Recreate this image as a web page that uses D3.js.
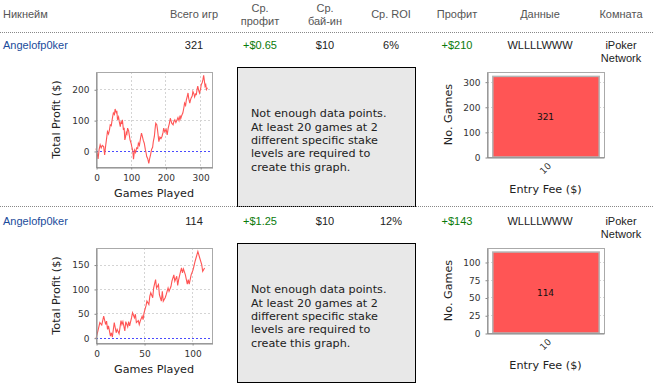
<!DOCTYPE html>
<html>
<head>
<meta charset="utf-8">
<script src="https://cdn.jsdelivr.net/npm/d3@7"></script>
<style>
    body { margin: 0; background: #fff; }
    svg { display: block; }
</style>
</head>
<body>
<svg id="main"></svg>
<script>
const width = 654;
const height = 385;

// DATA -------------------------------------------
const headers = [['Никнейм'], ['Всего игр'], ['Ср.', 'профит'], ['Ср.', 'бай-ин'], ['Ср. ROI'], ['Профит'], ['Данные'], ['Комната']];
const nicknames = ['Angelofp0ker', 'Angelofp0ker'];
const totalGames = ['321', '114'];
const avgProfit = ['+$0.65', '+$1.25'];
const avgBuyin = ['$10', '$10'];
const avgRoi = ['6%', '12%'];
const profit = ['+$210', '+$143'];
const lastResults = ['WLLLLWWW', 'WLLLLWWW'];
const rooms = [['iPoker', 'Network'], ['iPoker', 'Network']];

// cumulative profit: [games played, total profit $]
const profitCurve1 = [[0, 8], [3, -5], [6, -26], [9, 5], [12, 20], [15, 10], [18, 18], [22, 14], [25, -13], [27, 10],
    [30, 36], [33, 63], [36, 55], [39, 70], [41, 85], [44, 82], [47, 105], [50, 123], [53, 118], [55, 136],
    [58, 125], [60, 130], [62, 101], [65, 110], [67, 95], [70, 79], [72, 96], [74, 88], [76, 101], [79, 68],
    [81, 75], [83, 36], [85, 45], [87, 60], [89, 55], [91, 74], [94, 65], [96, 50], [98, 36], [101, 25],
    [103, 14], [106, 0], [108, -27], [111, 3], [114, -5], [117, 10], [120, 8], [122, 25], [125, 18], [128, 40],
    [131, 58], [134, 45], [136, 35], [139, 25], [142, 5], [144, -5], [146, -18], [149, -25], [152, -40], [155, -22],
    [157, -13], [160, 5], [163, 12], [165, 30], [168, 47], [170, 70], [172, 90], [175, 85], [177, 70], [181, 30],
    [184, 45], [187, 40], [190, 47], [193, 60], [195, 74], [198, 62], [202, 70], [205, 52], [208, 75], [211, 88],
    [214, 106], [216, 98], [218, 90], [222, 85], [224, 95], [227, 101], [230, 92], [233, 100], [236, 108], [239, 98],
    [242, 115], [244, 105], [246, 112], [248, 118], [250, 123], [253, 140], [255, 155], [258, 148], [260, 165], [263, 178],
    [265, 188], [267, 170], [270, 155], [272, 165], [274, 172], [277, 178], [279, 193], [282, 185], [284, 175], [287, 185],
    [289, 183], [291, 200], [293, 210], [296, 195], [298, 188], [301, 200], [303, 215], [306, 222], [308, 232], [310, 245],
    [312, 228], [314, 210], [316, 215], [318, 199], [321, 205]];

const profitCurve2 = [[0, -2], [2, 14], [4, 31], [6, 26], [8, 44], [10, 27], [11, 34], [12, 17], [13, 24], [15, 3],
    [16, 10], [17, 1], [19, 31], [21, 10], [22, 17], [24, 8], [26, 35], [27, 27], [28, 33], [30, 14],
    [31, 33], [33, 22], [34, 33], [35, 24], [37, 41], [38, 51], [40, 41], [41, 48], [42, 31], [44, 35],
    [45, 27], [46, 34], [48, 44], [49, 37], [50, 51], [52, 65], [53, 75], [55, 68], [56, 85], [57, 92],
    [59, 82], [60, 102], [62, 119], [63, 102], [65, 109], [66, 88], [68, 75], [69, 95], [70, 75], [72, 82],
    [73, 88], [75, 102], [76, 95], [78, 105], [79, 116], [81, 129], [82, 116], [84, 126], [85, 107], [86, 119],
    [88, 136], [89, 143], [90, 133], [91, 141], [93, 129], [95, 110], [96, 119], [97, 110], [99, 129], [101, 139],
    [103, 156], [104, 163], [106, 177], [108, 163], [110, 150], [111, 136], [113, 143]];

const curveXMax = [334, 120.7];
const curveYRange = [[-52, 256], [-11, 184]];
const curveXTicks = [[0, 100, 200, 300], [0, 50, 100]];
const curveYTicks = [[0, 100, 200], [0, 50, 100, 150]];

const entryFees = ['10'];
const feeGames = [[321], [114]];
const feeYMax = [338.5, 119.7];
const feeYTicks = [[0, 100, 200, 300], [0, 25, 50, 75, 100]];

const noDataText = ['Not enough data points.', 'At least 20 games at 2', 'different specific stake', 'levels are required to', 'create this graph.'];

// LAYOUT -------------------------------------------
const rowStep = 176;
const colCenters = [null, 194, 260, 325, 391, 457, 540, 621];
const tableFont = '"Liberation Sans", Arial, sans-serif';
const chartFont = '"DejaVu Sans", sans-serif';

const svg = d3.select('svg#main')
    .attr('width', width)
    .attr('height', height);

// HEADER -------------------------------------------
headers.forEach((lines, i) => {
    const t = svg.append('text')
        .attr('x', i === 0 ? 3 : colCenters[i])
        .attr('text-anchor', i === 0 ? 'start' : 'middle')
        .style('font-family', tableFont)
        .style('font-size', '11px')
        .style('fill', '#555');
    lines.forEach((line, j) => {
        t.append('tspan')
            .attr('x', i === 0 ? 3 : colCenters[i])
            .attr('y', lines.length === 1 ? 18 : 12 + j * 13)
            .text(line);
    });
});

function dotted(y) {
    svg.append('line')
        .attr('x1', 0).attr('x2', width)
        .attr('y1', y).attr('y2', y)
        .style('stroke', '#888')
        .style('stroke-dasharray', '1,1');
}
dotted(32.5);

// ROWS -------------------------------------------
nicknames.forEach((name, r) => {
    const top = r * rowStep;
    const row = svg.append('g').attr('transform', `translate(0,${top})`);
    const cells = [
        { text: name, x: 3, anchor: 'start', color: '#1a4b9b' },
        { text: totalGames[r], x: colCenters[1], color: '#222' },
        { text: avgProfit[r], x: colCenters[2], color: '#0a7a0a' },
        { text: avgBuyin[r], x: colCenters[3], color: '#222' },
        { text: avgRoi[r], x: colCenters[4], color: '#222' },
        { text: profit[r], x: colCenters[5], color: '#0a7a0a' },
        { text: lastResults[r], x: colCenters[6], color: '#222' },
    ];
    cells.forEach(c => {
        row.append('text')
            .attr('x', c.x)
            .attr('y', 49)
            .attr('text-anchor', c.anchor || 'middle')
            .style('font-family', tableFont)
            .style('font-size', '11px')
            .style('fill', c.color)
            .text(c.text);
    });
    rooms[r].forEach((line, j) => {
        row.append('text')
            .attr('x', colCenters[7])
            .attr('y', 49 + j * 13)
            .attr('text-anchor', 'middle')
            .style('font-family', tableFont)
            .style('font-size', '11px')
            .style('fill', '#222')
            .text(line);
    });

    lineChart(row, r);
    noDataBox(row);
    barChart(row, r);

    if (r === 0) dotted(top + 206.5);
});

function styleAxis(a) {
    a.select('.domain').style('stroke', '#888');
    a.selectAll('.tick line').style('stroke', '#888');
    a.selectAll('.tick text')
        .style('font-family', chartFont)
        .style('font-size', '9px')
        .style('fill', '#333');
}

function lineChart(row, r) {
    const plot = { left: 96, right: 212, top: 72, bottom: 167 };
    const x = d3.scaleLinear().domain([0, curveXMax[r]]).range([plot.left, plot.right]);
    const y = d3.scaleLinear().domain(curveYRange[r]).range([plot.bottom, plot.top]);
    const g = row.append('g');

    g.append('rect')
        .attr('x', plot.left).attr('y', plot.top)
        .attr('width', plot.right - plot.left).attr('height', plot.bottom - plot.top)
        .style('fill', '#fff');

    g.selectAll('.vgrid').data(curveXTicks[r].filter(d => d > 0)).enter()
        .append('line')
        .attr('x1', d => Math.round(x(d)) + 0.5).attr('x2', d => Math.round(x(d)) + 0.5)
        .attr('y1', plot.top).attr('y2', plot.bottom)
        .style('stroke', '#d4d4d4')
        .style('stroke-dasharray', '2,2');
    g.selectAll('.hgrid').data(curveYTicks[r].filter(d => d !== 0)).enter()
        .append('line')
        .attr('x1', plot.left).attr('x2', plot.right)
        .attr('y1', d => Math.round(y(d)) + 0.5).attr('y2', d => Math.round(y(d)) + 0.5)
        .style('stroke', '#d4d4d4')
        .style('stroke-dasharray', '2,2');

    // zero marker
    g.append('line')
        .attr('x1', plot.left).attr('x2', plot.right)
        .attr('y1', Math.round(y(0)) + 0.5).attr('y2', Math.round(y(0)) + 0.5)
        .style('stroke', '#4a4aff')
        .style('stroke-dasharray', '2,2');

    const pts = r === 0 ? profitCurve1 : profitCurve2;
    g.append('path')
        .datum(pts)
        .attr('d', d3.line().x(d => x(d[0])).y(d => y(d[1])))
        .style('fill', 'none')
        .style('stroke', '#ff5555')
        .style('stroke-width', 1.1);

    g.append('rect')
        .attr('x', plot.left + 0.5).attr('y', plot.top + 0.5)
        .attr('width', plot.right - plot.left).attr('height', plot.bottom - plot.top)
        .style('fill', 'none')
        .style('stroke', '#aaa');

    const ax = g.append('g')
        .attr('transform', `translate(0.5,${plot.bottom + 0.5})`)
        .call(d3.axisBottom(x).tickValues(curveXTicks[r]).tickSize(2).tickSizeOuter(0).tickPadding(5));
    styleAxis(ax);
    const ay = g.append('g')
        .attr('transform', `translate(${plot.left + 0.5},0.5)`)
        .call(d3.axisLeft(y).tickValues(curveYTicks[r]).tickSize(2).tickSizeOuter(0).tickPadding(5));
    styleAxis(ay);

    g.append('text')
        .attr('transform', `translate(60,${(plot.top + plot.bottom) / 2}) rotate(-90)`)
        .attr('text-anchor', 'middle')
        .style('font-family', chartFont)
        .style('font-size', '11.2px')
        .style('fill', '#222')
        .text('Total Profit ($)');
    g.append('text')
        .attr('x', (plot.left + plot.right) / 2)
        .attr('y', 197)
        .attr('text-anchor', 'middle')
        .style('font-family', chartFont)
        .style('font-size', '11.2px')
        .style('fill', '#222')
        .text('Games Played');
}

function noDataBox(row) {
    row.append('rect')
        .attr('x', 237.5).attr('y', 67.5)
        .attr('width', 178).attr('height', 139)
        .style('fill', '#e8e8e8')
        .style('stroke', '#000');
    noDataText.forEach((line, i) => {
        row.append('text')
            .attr('x', 251)
            .attr('y', 117.3 + i * 13.35)
            .style('font-family', chartFont)
            .style('font-size', '11.2px')
            .style('fill', '#222')
            .text(line);
    });
}

function barChart(row, r) {
    const plot = { left: 487, right: 604, top: 72, bottom: 157 };
    const x = d3.scaleBand().domain(entryFees).range([plot.left, plot.right]).paddingInner(0).paddingOuter(0.05);
    const y = d3.scaleLinear().domain([0, feeYMax[r]]).range([plot.bottom, plot.top]);
    const g = row.append('g');

    g.selectAll('.hgrid').data(feeYTicks[r].filter(d => d > 0)).enter()
        .append('line')
        .attr('x1', plot.left).attr('x2', plot.right)
        .attr('y1', d => Math.round(y(d)) + 0.5).attr('y2', d => Math.round(y(d)) + 0.5)
        .style('stroke', '#d4d4d4')
        .style('stroke-dasharray', '2,2');

    const data = entryFees.map((f, i) => ({ fee: f, n: feeGames[r][i] }));
    g.selectAll('.bar').data(data).enter()
        .append('rect')
        .attr('x', d => x(d.fee) + 0.5)
        .attr('y', d => y(d.n))
        .attr('width', x.bandwidth())
        .attr('height', d => y(0) - y(d.n))
        .style('fill', '#ff5555')
        .style('stroke', '#b4b4b4')
        .style('stroke-width', 1.5);
    g.selectAll('.barlabel').data(data).enter()
        .append('text')
        .attr('x', d => x(d.fee) + x.bandwidth() / 2)
        .attr('y', d => y(d.n / 2) + 3)
        .attr('text-anchor', 'middle')
        .style('font-family', chartFont)
        .style('font-size', '9px')
        .style('fill', '#111')
        .text(d => d.n);

    g.append('rect')
        .attr('x', plot.left + 0.5).attr('y', plot.top + 0.5)
        .attr('width', plot.right - plot.left).attr('height', plot.bottom - plot.top)
        .style('fill', 'none')
        .style('stroke', '#aaa');

    const ax = g.append('g')
        .attr('transform', `translate(0,${plot.bottom + 0.5})`)
        .call(d3.axisBottom(x).tickSize(0).tickSizeOuter(0).tickPadding(0));
    styleAxis(ax);
    ax.selectAll('.tick text')
        .attr('y', 0).attr('dy', 0)
        .attr('text-anchor', 'middle')
        .attr('transform', 'translate(0,11) rotate(-45) translate(0,3)');

    const ay = g.append('g')
        .attr('transform', `translate(${plot.left + 0.5},0.5)`)
        .call(d3.axisLeft(y).tickValues(feeYTicks[r]).tickSize(2).tickSizeOuter(0).tickPadding(5));
    styleAxis(ay);

    g.append('text')
        .attr('transform', `translate(452,${(plot.top + plot.bottom) / 2}) rotate(-90)`)
        .attr('text-anchor', 'middle')
        .style('font-family', chartFont)
        .style('font-size', '11.2px')
        .style('fill', '#222')
        .text('No. Games');
    g.append('text')
        .attr('x', (plot.left + plot.right) / 2)
        .attr('y', 193)
        .attr('text-anchor', 'middle')
        .style('font-family', chartFont)
        .style('font-size', '11.2px')
        .style('fill', '#222')
        .text('Entry Fee ($)');
}
</script>
</body>
</html>
